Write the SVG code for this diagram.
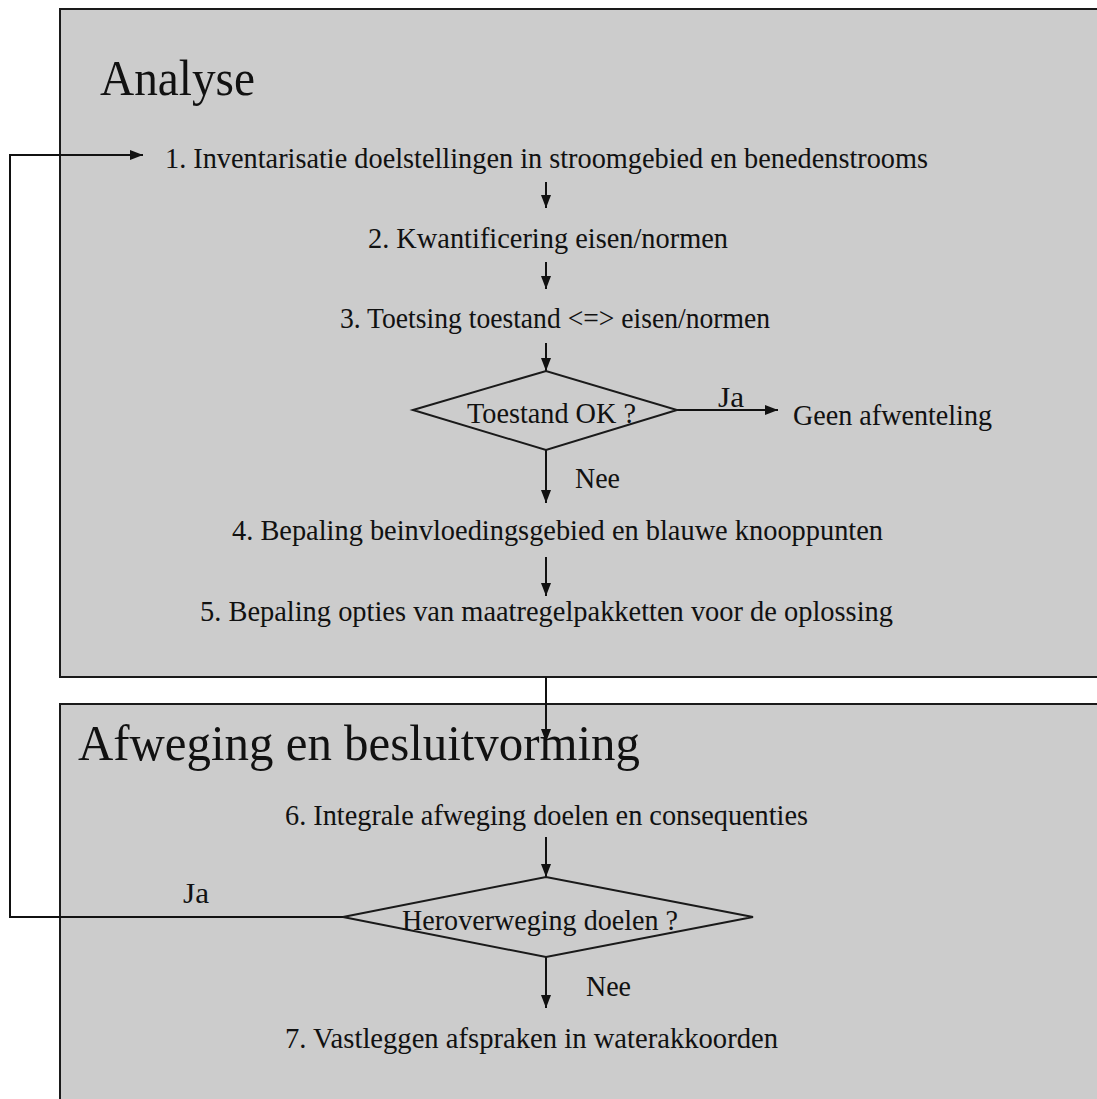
<svg xmlns="http://www.w3.org/2000/svg" width="1097" height="1099" viewBox="0 0 1097 1099">
<style>
.box{fill:#cccccc;stroke:#1a1a1a;stroke-width:2}
.dia{fill:#cccccc;stroke:#1a1a1a;stroke-width:2}
.t{font-family:"Liberation Serif","Times New Roman",serif;font-size:30px;fill:#111}
.title{font-family:"Liberation Serif","Times New Roman",serif;font-size:50px;fill:#111}
.c{fill:none;stroke:#111;stroke-width:2}
</style>
<defs>
<marker id="ah" markerUnits="userSpaceOnUse" markerWidth="13" markerHeight="10" refX="13" refY="5" orient="auto">
<path d="M0,0 L13,5 L0,10 z" fill="#111"/>
</marker>
</defs>
<rect width="1097" height="1099" fill="#ffffff"/>
<g id="analyse">
<rect class="box" x="60" y="9" width="1100" height="668"/>
<text class="title" x="100" y="95" textLength="155" lengthAdjust="spacingAndGlyphs">Analyse</text>
</g>
<g id="afweging">
<rect class="box" x="60" y="704" width="1100" height="500"/>
<text class="title" x="78" y="760" textLength="562" lengthAdjust="spacingAndGlyphs">Afweging en besluitvorming</text>
</g>
<g id="connectors">
<path class="c" d="M343,917 H10 V155 H143" marker-end="url(#ah)"/>
<path class="c" d="M546,182 V208" marker-end="url(#ah)"/>
<path class="c" d="M546,262 V289" marker-end="url(#ah)"/>
<path class="c" d="M546,343 V371" marker-end="url(#ah)"/>
<path class="c" d="M677,410 H778" marker-end="url(#ah)"/>
<path class="c" d="M546,450 V503" marker-end="url(#ah)"/>
<path class="c" d="M546,557 V596" marker-end="url(#ah)"/>
<path class="c" d="M546,677 V742" marker-end="url(#ah)"/>
<path class="c" d="M546,837 V877" marker-end="url(#ah)"/>
<path class="c" d="M546,957 V1008" marker-end="url(#ah)"/>
<text class="t" x="718" y="407" textLength="26" lengthAdjust="spacingAndGlyphs">Ja</text>
<text class="t" x="575" y="488" textLength="45" lengthAdjust="spacingAndGlyphs">Nee</text>
<text class="t" x="183" y="903" textLength="26" lengthAdjust="spacingAndGlyphs">Ja</text>
<text class="t" x="586" y="996" textLength="45" lengthAdjust="spacingAndGlyphs">Nee</text>
</g>
<g id="step1"><text class="t" x="165" y="168" textLength="763" lengthAdjust="spacingAndGlyphs">1. Inventarisatie doelstellingen in stroomgebied en benedenstrooms</text></g>
<g id="step2"><text class="t" x="368" y="248" textLength="360" lengthAdjust="spacingAndGlyphs">2. Kwantificering eisen/normen</text></g>
<g id="step3"><text class="t" x="340" y="328" textLength="430" lengthAdjust="spacingAndGlyphs">3. Toetsing toestand &lt;=&gt; eisen/normen</text></g>
<g id="decision1">
<polygon class="dia" points="413,410 546,371 677,410 546,450"/>
<text class="t" x="467" y="423" textLength="169" lengthAdjust="spacingAndGlyphs">Toestand OK ?</text>
</g>
<g id="geen"><text class="t" x="793" y="425" textLength="199" lengthAdjust="spacingAndGlyphs">Geen afwenteling</text></g>
<g id="step4"><text class="t" x="232" y="540" textLength="651" lengthAdjust="spacingAndGlyphs">4. Bepaling beinvloedingsgebied en blauwe knooppunten</text></g>
<g id="step5"><text class="t" x="200" y="621" textLength="693" lengthAdjust="spacingAndGlyphs">5. Bepaling opties van maatregelpakketten voor de oplossing</text></g>
<g id="step6"><text class="t" x="285" y="825" textLength="523" lengthAdjust="spacingAndGlyphs">6. Integrale afweging doelen en consequenties</text></g>
<g id="decision2">
<polygon class="dia" points="343,917 546,877 753,917 546,957"/>
<text class="t" x="402" y="930" textLength="276" lengthAdjust="spacingAndGlyphs">Heroverweging doelen ?</text>
</g>
<g id="step7"><text class="t" x="285" y="1048" textLength="493" lengthAdjust="spacingAndGlyphs">7. Vastleggen afspraken in waterakkoorden</text></g>
</svg>
